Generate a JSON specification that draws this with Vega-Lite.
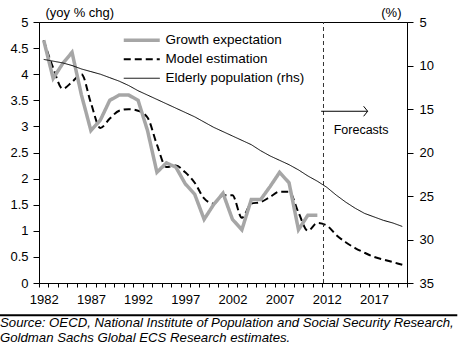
{
  "$schema": "https://vega.github.io/schema/vega-lite/v6.json",
  "width": 368,
  "height": 261,
  "autosize": {"type": "none"},
  "padding": {"left": 39, "top": 22, "right": 51, "bottom": 70},
  "config": {
    "font": "Liberation Sans",
    "view": {"stroke": "black", "strokeWidth": 1},
    "axis": {"domainColor": "black", "tickColor": "black", "labelColor": "black", "titleColor": "black", "labelFontSize": 13, "titleFontSize": 13, "titleFontWeight": "normal", "grid": false, "labelFont": "Liberation Sans", "titleFont": "Liberation Sans", "labelOverlap": false, "labelFlush": false}
  },
  "title": {
    "text": ["Source: OECD, National Institute of Population and Social Security Research,", "Goldman Sachs Global ECS Research estimates."],
    "orient": "bottom", "anchor": "start", "frame": "group", "dx": -39, "offset": 1,
    "fontSize": 13.2, "fontStyle": "italic", "fontWeight": "normal", "color": "black", "lineHeight": 15, "font": "Liberation Sans"
  },
  "datasets": {
    "growth": [
      {"year": 1982, "series": "Growth expectation", "value": 4.65},
      {"year": 1983, "series": "Growth expectation", "value": 3.92},
      {"year": 1984, "series": "Growth expectation", "value": 4.2},
      {"year": 1985, "series": "Growth expectation", "value": 4.42},
      {"year": 1986, "series": "Growth expectation", "value": 3.6},
      {"year": 1987, "series": "Growth expectation", "value": 2.92},
      {"year": 1988, "series": "Growth expectation", "value": 3.12},
      {"year": 1989, "series": "Growth expectation", "value": 3.5},
      {"year": 1990, "series": "Growth expectation", "value": 3.6},
      {"year": 1991, "series": "Growth expectation", "value": 3.6},
      {"year": 1992, "series": "Growth expectation", "value": 3.5},
      {"year": 1993, "series": "Growth expectation", "value": 2.92},
      {"year": 1994, "series": "Growth expectation", "value": 2.12},
      {"year": 1995, "series": "Growth expectation", "value": 2.3},
      {"year": 1996, "series": "Growth expectation", "value": 2.22},
      {"year": 1997, "series": "Growth expectation", "value": 1.9},
      {"year": 1998, "series": "Growth expectation", "value": 1.7},
      {"year": 1999, "series": "Growth expectation", "value": 1.22},
      {"year": 2000, "series": "Growth expectation", "value": 1.5},
      {"year": 2001, "series": "Growth expectation", "value": 1.72},
      {"year": 2002, "series": "Growth expectation", "value": 1.22},
      {"year": 2003, "series": "Growth expectation", "value": 1.02},
      {"year": 2004, "series": "Growth expectation", "value": 1.6},
      {"year": 2005, "series": "Growth expectation", "value": 1.6},
      {"year": 2006, "series": "Growth expectation", "value": 1.85},
      {"year": 2007, "series": "Growth expectation", "value": 2.12},
      {"year": 2008, "series": "Growth expectation", "value": 1.92},
      {"year": 2009, "series": "Growth expectation", "value": 1.02},
      {"year": 2010, "series": "Growth expectation", "value": 1.3},
      {"year": 2011, "series": "Growth expectation", "value": 1.3}
    ],
    "model": [
      {"year": 1982, "series": "Model estimation", "value": 4.65},
      {"year": 1983, "series": "Model estimation", "value": 4.12},
      {"year": 1984, "series": "Model estimation", "value": 3.72},
      {"year": 1985, "series": "Model estimation", "value": 3.85},
      {"year": 1986, "series": "Model estimation", "value": 4.0},
      {"year": 1987, "series": "Model estimation", "value": 3.45},
      {"year": 1988, "series": "Model estimation", "value": 2.97},
      {"year": 1989, "series": "Model estimation", "value": 3.15},
      {"year": 1990, "series": "Model estimation", "value": 3.3},
      {"year": 1991, "series": "Model estimation", "value": 3.33},
      {"year": 1992, "series": "Model estimation", "value": 3.3},
      {"year": 1993, "series": "Model estimation", "value": 3.17},
      {"year": 1994, "series": "Model estimation", "value": 2.65},
      {"year": 1995, "series": "Model estimation", "value": 2.22},
      {"year": 1996, "series": "Model estimation", "value": 2.25},
      {"year": 1997, "series": "Model estimation", "value": 2.12},
      {"year": 1998, "series": "Model estimation", "value": 1.92},
      {"year": 1999, "series": "Model estimation", "value": 1.62},
      {"year": 2000, "series": "Model estimation", "value": 1.52},
      {"year": 2001, "series": "Model estimation", "value": 1.68},
      {"year": 2002, "series": "Model estimation", "value": 1.68},
      {"year": 2003, "series": "Model estimation", "value": 1.25},
      {"year": 2004, "series": "Model estimation", "value": 1.52},
      {"year": 2005, "series": "Model estimation", "value": 1.55},
      {"year": 2006, "series": "Model estimation", "value": 1.65},
      {"year": 2007, "series": "Model estimation", "value": 1.75},
      {"year": 2008, "series": "Model estimation", "value": 1.75},
      {"year": 2009, "series": "Model estimation", "value": 1.35},
      {"year": 2010, "series": "Model estimation", "value": 1.0},
      {"year": 2011, "series": "Model estimation", "value": 1.15},
      {"year": 2012, "series": "Model estimation", "value": 1.1},
      {"year": 2013, "series": "Model estimation", "value": 0.92},
      {"year": 2014, "series": "Model estimation", "value": 0.78},
      {"year": 2015, "series": "Model estimation", "value": 0.67},
      {"year": 2016, "series": "Model estimation", "value": 0.58},
      {"year": 2017, "series": "Model estimation", "value": 0.5},
      {"year": 2018, "series": "Model estimation", "value": 0.45},
      {"year": 2019, "series": "Model estimation", "value": 0.4},
      {"year": 2020, "series": "Model estimation", "value": 0.35}
    ],
    "elderly": [
      {"year": 1982, "series": "Elderly population (rhs)", "share": 9.3},
      {"year": 1983, "series": "Elderly population (rhs)", "share": 9.5},
      {"year": 1984, "series": "Elderly population (rhs)", "share": 9.7},
      {"year": 1985, "series": "Elderly population (rhs)", "share": 10.0},
      {"year": 1986, "series": "Elderly population (rhs)", "share": 10.4},
      {"year": 1987, "series": "Elderly population (rhs)", "share": 10.7},
      {"year": 1988, "series": "Elderly population (rhs)", "share": 11.0},
      {"year": 1989, "series": "Elderly population (rhs)", "share": 11.4},
      {"year": 1990, "series": "Elderly population (rhs)", "share": 11.8},
      {"year": 1991, "series": "Elderly population (rhs)", "share": 12.3},
      {"year": 1992, "series": "Elderly population (rhs)", "share": 12.9},
      {"year": 1993, "series": "Elderly population (rhs)", "share": 13.4},
      {"year": 1994, "series": "Elderly population (rhs)", "share": 13.9},
      {"year": 1995, "series": "Elderly population (rhs)", "share": 14.4},
      {"year": 1996, "series": "Elderly population (rhs)", "share": 14.9},
      {"year": 1997, "series": "Elderly population (rhs)", "share": 15.4},
      {"year": 1998, "series": "Elderly population (rhs)", "share": 15.9},
      {"year": 1999, "series": "Elderly population (rhs)", "share": 16.5},
      {"year": 2000, "series": "Elderly population (rhs)", "share": 17.1},
      {"year": 2001, "series": "Elderly population (rhs)", "share": 17.6},
      {"year": 2002, "series": "Elderly population (rhs)", "share": 18.1},
      {"year": 2003, "series": "Elderly population (rhs)", "share": 18.6},
      {"year": 2004, "series": "Elderly population (rhs)", "share": 19.1},
      {"year": 2005, "series": "Elderly population (rhs)", "share": 19.8},
      {"year": 2006, "series": "Elderly population (rhs)", "share": 20.4},
      {"year": 2007, "series": "Elderly population (rhs)", "share": 20.9},
      {"year": 2008, "series": "Elderly population (rhs)", "share": 21.4},
      {"year": 2009, "series": "Elderly population (rhs)", "share": 22.0},
      {"year": 2010, "series": "Elderly population (rhs)", "share": 22.7},
      {"year": 2011, "series": "Elderly population (rhs)", "share": 23.3},
      {"year": 2012, "series": "Elderly population (rhs)", "share": 24.0},
      {"year": 2013, "series": "Elderly population (rhs)", "share": 24.9},
      {"year": 2014, "series": "Elderly population (rhs)", "share": 25.7},
      {"year": 2015, "series": "Elderly population (rhs)", "share": 26.4},
      {"year": 2016, "series": "Elderly population (rhs)", "share": 27.0},
      {"year": 2017, "series": "Elderly population (rhs)", "share": 27.4},
      {"year": 2018, "series": "Elderly population (rhs)", "share": 27.8},
      {"year": 2019, "series": "Elderly population (rhs)", "share": 28.1},
      {"year": 2020, "series": "Elderly population (rhs)", "share": 28.5}
    ],
    "notes": [
      {"kind": "divider", "year": 2011.65, "value": 0, "value2": 5},
      {"kind": "arrow", "year": 2011.4, "year2": 2016.33, "value": 3.29},
      {"kind": "head", "year": 2016.33, "value": 3.29},
      {"kind": "text", "year": 2012.73, "value": 2.94, "label": "Forecasts"},
      {"kind": "frame", "year": 1977.34, "year2": 2025.83, "value": -0.62}
    ]
  },
  "layer": [
    {
      "encoding": {
        "x": {"field": "year", "type": "quantitative", "scale": {"domain": [1981.5, 2020.5], "nice": false, "zero": false},
          "axis": {"orient": "bottom", "values": [1981.5,1982.5,1983.5,1984.5,1985.5,1986.5,1987.5,1988.5,1989.5,1990.5,1991.5,1992.5,1993.5,1994.5,1995.5,1996.5,1997.5,1998.5,1999.5,2000.5,2001.5,2002.5,2003.5,2004.5,2005.5,2006.5,2007.5,2008.5,2009.5,2010.5,2011.5,2012.5,2013.5,2014.5,2015.5,2016.5,2017.5,2018.5,2019.5,2020.5],
            "labels": false, "tickSize": 4, "title": null}},
        "y": {"field": "value", "type": "quantitative", "scale": {"domain": [0, 5], "nice": false, "zero": false},
          "axis": {"values": [0,0.5,1,1.5,2,2.5,3,3.5,4,4.5,5], "format": "~g", "labelOverlap": false, "tickSize": 6, "labelPadding": 5, "title": "(yoy % chg)", "titleAngle": 0, "titleAlign": "left", "titleBaseline": "middle", "titleX": 6, "titleY": -9.5}}
      },
      "layer": [
        {
          "data": {"name": "model"},
          "mark": {"type": "line", "strokeWidth": 2, "interpolate": "monotone"},
          "encoding": {
            "color": {"field": "series", "type": "nominal",
              "scale": {"domain": ["Growth expectation", "Model estimation", "Elderly population (rhs)"], "range": ["#A6A6A6", "#000000", "#000000"]},
              "legend": {"title": null, "orient": "none", "legendX": 96, "legendY": 11.5, "padding": 0, "symbolType": "M-3,0L3,0", "symbolSize": 144, "labelOffset": 17, "labelFontSize": 13.5, "labelColor": "black", "labelFont": "Liberation Sans", "rowPadding": 4,
                "encode": {"symbols": {"update": {"strokeWidth": {"signal": "datum.value === 'Growth expectation' ? 3.5 : (datum.value === 'Model estimation' ? 2 : 1)"}}}}}},
            "strokeDash": {"field": "series", "type": "nominal",
              "scale": {"domain": ["Growth expectation", "Model estimation", "Elderly population (rhs)"], "range": [[1, 0], [7, 4], [1, 0]]},
              "legend": {"title": null}}
          }
        },
        {
          "data": {"name": "growth"},
          "mark": {"type": "line", "strokeWidth": 3.5, "strokeJoin": "miter"},
          "encoding": {
            "color": {"field": "series", "type": "nominal"},
            "strokeDash": {"field": "series", "type": "nominal"}
          }
        },
        {
          "data": {"name": "notes"},
          "transform": [{"filter": "datum.kind === 'divider'"}],
          "mark": {"type": "rule", "stroke": "#333333", "strokeWidth": 1, "strokeDash": [4, 3]},
          "encoding": {"y2": {"field": "value2"}}
        },
        {
          "data": {"name": "notes"},
          "transform": [{"filter": "datum.kind === 'arrow'"}],
          "mark": {"type": "rule", "stroke": "black", "strokeWidth": 1},
          "encoding": {"x2": {"field": "year2"}}
        },
        {
          "data": {"name": "notes"},
          "transform": [{"filter": "datum.kind === 'head'"}],
          "mark": {"type": "point", "shape": "M-0.8,-1L0,0L-0.8,1", "size": 100, "filled": false, "stroke": "black", "strokeWidth": 1, "opacity": 1},
          "encoding": {}
        },
        {
          "data": {"name": "notes"},
          "transform": [{"filter": "datum.kind === 'text'"}],
          "mark": {"type": "text", "align": "left", "baseline": "middle", "fontSize": 12.5, "font": "Liberation Sans", "color": "black"},
          "encoding": {"text": {"field": "label"}}
        },
        {
          "data": {"name": "notes"},
          "transform": [{"filter": "datum.kind === 'frame'"}],
          "mark": {"type": "rule", "stroke": "black", "strokeWidth": 2, "clip": false},
          "encoding": {"x2": {"field": "year2"}}
        }
      ]
    },
    {
      "data": {"name": "elderly"},
      "mark": {"type": "line", "strokeWidth": 1},
      "encoding": {
        "x": {"field": "year", "type": "quantitative",
          "axis": {"orient": "bottom", "values": [1982, 1987, 1992, 1997, 2002, 2007, 2012, 2017], "format": "d", "ticks": false, "tickSize": 0, "domain": false, "labelPadding": 10, "title": null}},
        "y": {"field": "share", "type": "quantitative", "scale": {"domain": [5, 35], "reverse": true, "nice": false, "zero": false},
          "axis": {"orient": "right", "values": [5,10,15,20,25,30,35], "tickSize": 6, "labelPadding": 6, "title": "(%)", "titleAngle": 0, "titleAlign": "right", "titleBaseline": "middle", "titleX": -6, "titleY": -9.5}},
        "color": {"field": "series", "type": "nominal"},
        "strokeDash": {"field": "series", "type": "nominal"}
      }
    }
  ],
  "resolve": {"scale": {"y": "independent"}, "axis": {"x": "independent"}}
}
